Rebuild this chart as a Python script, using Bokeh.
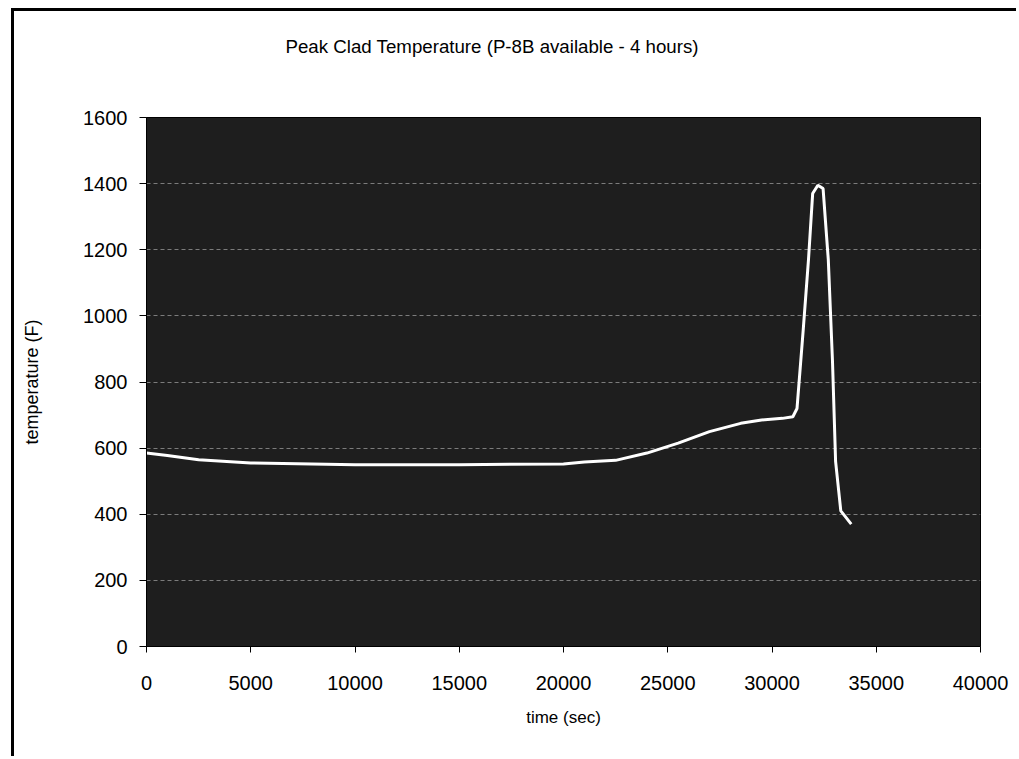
from bokeh.plotting import figure
from bokeh.embed import file_html
from bokeh.resources import INLINE
from bokeh.models import Title, FixedTicker, Range1d, LinearAxis

# Data
time_s = [0, 1000, 2500, 5000, 10000, 15000, 20000, 21000, 22500, 24000,
          25500, 27000, 28500, 29500, 30500, 31000, 31200, 31500, 31750,
          31950, 32200, 32450, 32700, 32900, 33050, 33300, 33800]
temp_f = [585, 578, 565, 555, 550, 550, 552, 558, 563, 585,
          615, 650, 675, 685, 690, 695, 720, 960, 1170,
          1370, 1395, 1385, 1170, 865, 560, 410, 370]

x_ticks = [0, 5000, 10000, 15000, 20000, 25000, 30000, 35000, 40000]
y_ticks = [0, 200, 400, 600, 800, 1000, 1200, 1400, 1600]

title_text = "Peak Clad Temperature (P-8B available - 4 hours)"
x_label = "time (sec)"
y_label = "temperature (F)"

FONT = "Liberation Sans"

p = figure(width=1005, height=748, output_backend="svg", toolbar_location=None,
           x_range=Range1d(0, 40000), y_range=Range1d(0, 1600),
           min_border_left=132, min_border_right=39,
           min_border_top=106, min_border_bottom=113)

p.styles = {"border-left": "3px solid black", "border-top": "3px solid black",
            "margin-left": "11px", "margin-top": "8px"}

p.background_fill_color = "#1e1e1e"
p.border_fill_color = "white"
p.outline_line_color = "black"
p.outline_line_width = 1

xaxis = p.below[0]
yaxis = p.left[0]

# blank spacer axis above the frame (no ticks, blank label), so the title sits higher
spacer = LinearAxis(ticker=FixedTicker(ticks=[]), major_tick_out=0,
                    major_tick_in=0, axis_line_color=None,
                    major_tick_line_color=None, minor_tick_line_color=None,
                    axis_label=" ", axis_label_standoff=34,
                    axis_label_text_font_size="17px",
                    axis_label_text_color="white")
p.add_layout(spacer, "above")

p.title = Title(text=title_text, align="left", offset=139, standoff=10,
                text_font=FONT, text_font_size="18.7px", text_font_style="normal",
                text_color="black")

p.line(time_s, temp_f, line_color="white", line_width=3)

for ax in (xaxis, yaxis):
    ax.major_label_text_font = FONT
    ax.major_label_text_font_size = "20px"
    ax.major_label_text_color = "black"
    ax.axis_label_text_font = FONT
    ax.axis_label_text_font_size = "18px"
    ax.axis_label_text_font_style = "normal"
    ax.axis_label_text_color = "black"
    ax.axis_line_color = "black"
    ax.major_tick_line_color = "black"
    ax.minor_tick_line_color = None
    ax.major_tick_in = 0

xaxis.ticker = FixedTicker(ticks=x_ticks)
yaxis.ticker = FixedTicker(ticks=y_ticks)
xaxis.axis_label = x_label
yaxis.axis_label = y_label
xaxis.major_tick_out = 6
yaxis.major_tick_out = 7
xaxis.major_label_standoff = 23
yaxis.major_label_standoff = 12
xaxis.axis_label_standoff = 15
yaxis.axis_label_standoff = 38
xaxis.axis_label_text_font_size = "17px"

p.xgrid.grid_line_color = None
p.ygrid.grid_line_color = "#bbbbbb"
p.ygrid.grid_line_alpha = 0.6
p.ygrid.grid_line_dash = "4 3"

open("out.html", "w").write(file_html(p, INLINE))
